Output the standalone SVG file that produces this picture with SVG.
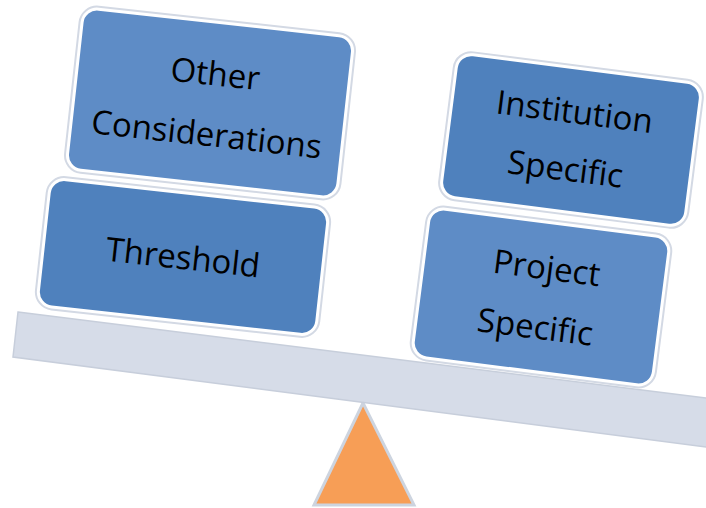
<svg xmlns="http://www.w3.org/2000/svg" width="706" height="508" viewBox="0 0 706 508">
  <defs>
    <style>
      .box-outline { fill: none; stroke: #d3d9e4; stroke-width: 7; }
      .box-dark { fill: #4f81bd; stroke: #ffffff; stroke-width: 3; }
      .box-light { fill: #5e8cc6; stroke: #ffffff; stroke-width: 3; }
      .label { font-family: "Open Sans", "Liberation Sans", sans-serif; font-size: 33px; fill: #000000; text-anchor: middle; }
      .beam { fill: #d6dce8; stroke: #c7cedb; stroke-width: 1.5; }
      .fulcrum { fill: #f79e56; stroke: #cdd4df; stroke-width: 3; stroke-linejoin: miter; }
    </style>
  </defs>
  <rect width="706" height="508" fill="#ffffff"/>

  <g id="fulcrum">
    <polygon class="fulcrum" points="363,403 414,505 314,505"/>
  </g>
  <g id="beam">
    <polygon class="beam" points="18,312 722,400 722,449 13,357"/>
  </g>

  <g id="node-other" transform="translate(210,103) rotate(6.3)">
    <rect class="box-outline" x="-136" y="-81" width="272" height="162" rx="15"/>
    <rect class="box-light" x="-136" y="-81" width="272" height="162" rx="15"/>
    <text class="label" x="2" y="-18">Other</text>
    <text class="label" x="0" y="43">Considerations</text>
  </g>

  <g id="node-threshold" transform="translate(183,257) rotate(6.3)">
    <rect class="box-outline" x="-140" y="-64" width="280" height="128" rx="15"/>
    <rect class="box-dark" x="-140" y="-64" width="280" height="128" rx="15"/>
    <text class="label" x="0" y="12">Threshold</text>
  </g>

  <g id="node-institution" transform="translate(571,140) rotate(7.3)">
    <rect class="box-outline" x="-123" y="-72" width="246" height="144" rx="15"/>
    <rect class="box-dark" x="-123" y="-72" width="246" height="144" rx="15"/>
    <text class="label" x="0" y="-17">Institution</text>
    <text class="label" x="-2" y="41">Specific</text>
  </g>

  <g id="node-project" transform="translate(541,297) rotate(7.3)">
    <rect class="box-outline" x="-121" y="-75" width="242" height="150" rx="15"/>
    <rect class="box-light" x="-121" y="-75" width="242" height="150" rx="15"/>
    <text class="label" x="2" y="-18">Project</text>
    <text class="label" x="-2" y="42">Specific</text>
  </g>

  <g id="connectors"></g>
</svg>
